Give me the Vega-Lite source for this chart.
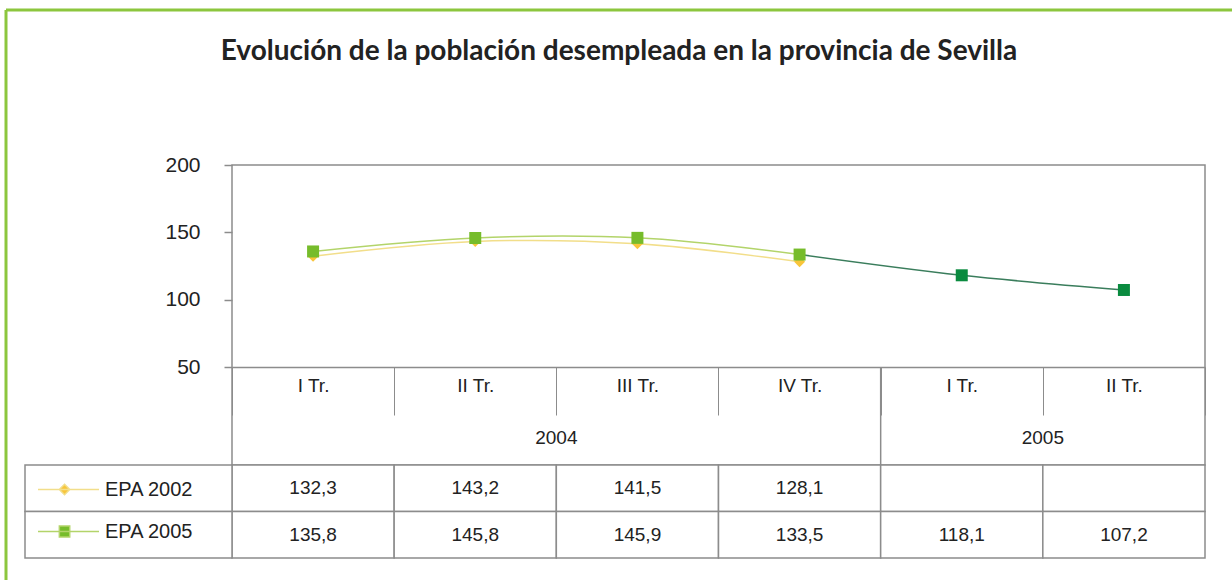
{
  "$schema": "https://vega.github.io/schema/vega-lite/v6.json",
  "autosize": {"type": "none"},
  "padding": {"left": 6, "top": 10, "right": 0, "bottom": 0},
  "width": 1226,
  "height": 570,
  "background": "white",
  "config": {
    "view": {"stroke": "#8cc63e", "strokeWidth": 3, "strokeDash": [1226, 1796, 570, 0]},
    "font": "Liberation Sans",
    "locale": {"number": {"decimal": ",", "thousands": ".", "grouping": [3], "currency": ["", " €"]}}
  },
  "title": {
    "text": "Evolución de la población desempleada en la provincia de Sevilla",
    "font": "Lato", "fontSize": 28, "fontWeight": "bold", "color": "#222222",
    "anchor": "middle", "baseline": "alphabetic", "offset": -78
  },
  "datasets": {
    "epa": [
      {"q": "2004|I Tr.", "n": 1, "year": "2004", "series": "EPA 2002", "value": 132.3},
      {"q": "2004|II Tr.", "n": 2, "year": "2004", "series": "EPA 2002", "value": 143.2},
      {"q": "2004|III Tr.", "n": 3, "year": "2004", "series": "EPA 2002", "value": 141.5},
      {"q": "2004|IV Tr.", "n": 4, "year": "2004", "series": "EPA 2002", "value": 128.1},
      {"q": "2005|I Tr.", "n": 5, "year": "2005", "series": "EPA 2002", "value": null},
      {"q": "2005|II Tr.", "n": 6, "year": "2005", "series": "EPA 2002", "value": null},
      {"q": "2004|I Tr.", "n": 1, "year": "2004", "series": "EPA 2005", "value": 135.8},
      {"q": "2004|II Tr.", "n": 2, "year": "2004", "series": "EPA 2005", "value": 145.8},
      {"q": "2004|III Tr.", "n": 3, "year": "2004", "series": "EPA 2005", "value": 145.9},
      {"q": "2004|IV Tr.", "n": 4, "year": "2004", "series": "EPA 2005", "value": 133.5},
      {"q": "2005|I Tr.", "n": 5, "year": "2005", "series": "EPA 2005", "value": 118.1},
      {"q": "2005|II Tr.", "n": 6, "year": "2005", "series": "EPA 2005", "value": 107.2}
    ]
  },
  "resolve": {
    "scale": {"x": "independent", "y": "independent", "fill": "independent", "stroke": "independent", "shape": "independent"},
    "axis": {"x": "independent", "y": "independent"},
    "legend": {"stroke": "independent", "fill": "independent", "shape": "independent"}
  },
  "layer": [
    {
      "data": {"name": "epa"},
      "transform": [{"filter": "datum.n == 1 && datum.series == 'EPA 2002'"}],
      "mark": {"type": "rect", "fill": null, "stroke": "#8c8c8c", "strokeWidth": 1.5},
      "encoding": {
        "x": {"datum": 0, "type": "quantitative", "scale": {"domain": [0, 1], "range": [226, 1199]}, "axis": null},
        "x2": {"datum": 1},
        "y": {"datum": 0, "type": "quantitative", "scale": {"domain": [0, 1], "range": [155, 455]}, "axis": null},
        "y2": {"datum": 1}
      }
    },
    {
      "data": {"name": "epa"},
      "transform": [{"filter": "datum.n == 5 && datum.series == 'EPA 2005'"}],
      "mark": {"type": "rule", "stroke": "#8c8c8c", "strokeWidth": 1.5},
      "encoding": {
        "x": {"field": "q", "type": "nominal", "bandPosition": 0,
              "scale": {"type": "band", "domain": ["2004|I Tr.", "2004|II Tr.", "2004|III Tr.", "2004|IV Tr.", "2005|I Tr.", "2005|II Tr."], "range": [226, 1199], "paddingInner": 0, "paddingOuter": 0}, "axis": null},
        "y": {"datum": 0, "type": "quantitative", "scale": {"domain": [0, 1], "range": [357, 455]}, "axis": null},
        "y2": {"datum": 1}
      }
    },
    {
      "data": {"name": "epa"},
      "mark": {"type": "rect", "fill": "white", "stroke": "#8c8c8c", "strokeWidth": 1.5},
      "encoding": {
        "x": {"field": "q", "type": "nominal",
              "scale": {"type": "band", "domain": ["2004|I Tr.", "2004|II Tr.", "2004|III Tr.", "2004|IV Tr.", "2005|I Tr.", "2005|II Tr."], "range": [226, 1199], "paddingInner": 0, "paddingOuter": 0}, "axis": null},
        "y": {"field": "series", "type": "nominal",
              "scale": {"type": "band", "domain": ["EPA 2002", "EPA 2005"], "range": [455, 548], "paddingInner": 0, "paddingOuter": 0}, "axis": null}
      }
    },
    {
      "data": {"name": "epa"},
      "transform": [{"filter": "datum.n == 1"}],
      "mark": {"type": "rect", "fill": "white", "stroke": "#8c8c8c", "strokeWidth": 1.5},
      "encoding": {
        "x": {"datum": 0, "type": "quantitative", "scale": {"domain": [0, 1], "range": [19, 226]}, "axis": null},
        "x2": {"datum": 1},
        "y": {"field": "series", "type": "nominal",
              "scale": {"type": "band", "domain": ["EPA 2002", "EPA 2005"], "range": [455, 548], "paddingInner": 0, "paddingOuter": 0}, "axis": null}
      }
    },
    {
      "data": {"name": "epa"},
      "transform": [{"filter": "datum.value != null"}],
      "mark": {"type": "text", "fontSize": 19, "color": "#222222", "align": "center", "baseline": "middle"},
      "encoding": {
        "x": {"field": "q", "type": "nominal",
              "scale": {"type": "band", "domain": ["2004|I Tr.", "2004|II Tr.", "2004|III Tr.", "2004|IV Tr.", "2005|I Tr.", "2005|II Tr."], "range": [226, 1199], "paddingInner": 0, "paddingOuter": 0}, "axis": null},
        "y": {"field": "series", "type": "nominal",
              "scale": {"type": "band", "domain": ["EPA 2002", "EPA 2005"], "range": [455, 548], "paddingInner": 0, "paddingOuter": 0}, "axis": null},
        "text": {"field": "value", "type": "quantitative", "format": ".1f"}
      }
    },
    {
      "data": {"name": "epa"},
      "mark": {"type": "text", "fontSize": 19, "color": "#222222", "align": "center", "baseline": "middle"},
      "encoding": {
        "x": {"aggregate": "mean", "field": "n", "type": "quantitative", "scale": {"domain": [0.5, 6.5], "range": [226, 1199]}, "axis": null},
        "y": {"datum": 1.45, "type": "quantitative", "scale": {"domain": [0, 2], "range": [357, 455]}, "axis": null},
        "text": {"field": "year", "type": "nominal"}
      }
    },
    {
      "data": {"name": "epa"},
      "transform": [{"filter": "datum.year == '2004'"}],
      "mark": {"type": "line", "interpolate": "catmull-rom", "strokeWidth": 1.5},
      "encoding": {
        "x": {"field": "q", "type": "nominal",
              "scale": {"type": "band", "domain": ["2004|I Tr.", "2004|II Tr.", "2004|III Tr.", "2004|IV Tr.", "2005|I Tr.", "2005|II Tr."], "range": [226, 1199], "paddingInner": 0, "paddingOuter": 0},
              "axis": {"orient": "bottom", "offset": -213, "title": null, "domain": true, "domainColor": "#8c8c8c", "domainWidth": 1.5,
                       "tickBand": "extent", "tickSize": 48, "tickColor": "#8c8c8c", "tickWidth": 1,
                       "labelExpr": "split(datum.value, '|')[1]", "labelPadding": -39, "labelAngle": 0,
                       "labelFontSize": 19, "labelColor": "#222222", "labelFont": "Liberation Sans", "grid": false}},
        "y": {"field": "value", "type": "quantitative",
              "scale": {"domain": [50, 200], "range": [357, 155], "nice": false, "zero": false},
              "axis": {"orient": "left", "offset": -226, "values": [50, 100, 150, 200], "title": null, "domain": false, "grid": false,
                       "tickSize": 8, "tickColor": "#8c8c8c", "tickWidth": 1.5, "labelPadding": 24,
                       "labelFontSize": 21, "labelColor": "#222222", "labelFont": "Liberation Sans"}},
        "stroke": {"field": "series", "type": "nominal",
                   "scale": {"domain": ["EPA 2002", "EPA 2005"], "range": ["#f2de8a", "#b3d46a"]},
                   "legend": {"orient": "none", "legendX": 31, "legendY": 448, "title": null, "padding": 0,
                              "symbolSize": 3721, "labelOffset": 5, "rowPadding": -13, "symbolStrokeWidth": 1.5,
                              "labelFontSize": 20, "labelFont": "Liberation Sans", "labelColor": "#222222",
                              "encode": {"symbols": {"update": {
                                "shape": {"signal": "datum.value === 'EPA 2002' ? 'M-1,0H1M-0.13,-0.17L0.04,0L-0.13,0.17L-0.3,0Z' : 'M-1,0H1M-0.3,-0.18H0.04V0.18H-0.3Z'"},
                                "fill": {"signal": "datum.value === 'EPA 2002' ? '#f8c53a' : '#76bc2b'"},
                                "stroke": {"signal": "datum.value === 'EPA 2002' ? '#f2de8a' : '#b3d46a'"}}}}}},
        "detail": {"field": "series"}
      }
    },
    {
      "data": {"name": "epa"},
      "transform": [{"filter": "datum.series == 'EPA 2005' && datum.n >= 4"}],
      "mark": {"type": "line", "interpolate": "catmull-rom", "strokeWidth": 1.5, "stroke": "#3a7d5c"},
      "encoding": {
        "x": {"field": "q", "type": "nominal",
              "scale": {"type": "band", "domain": ["2004|I Tr.", "2004|II Tr.", "2004|III Tr.", "2004|IV Tr.", "2005|I Tr.", "2005|II Tr."], "range": [226, 1199], "paddingInner": 0, "paddingOuter": 0}, "axis": null},
        "y": {"field": "value", "type": "quantitative", "scale": {"domain": [50, 200], "range": [357, 155], "nice": false, "zero": false}, "axis": null}
      }
    },
    {
      "data": {"name": "epa"},
      "transform": [{"filter": "datum.year == '2004'"}],
      "mark": {"type": "point", "filled": true, "opacity": 1},
      "encoding": {
        "x": {"field": "q", "type": "nominal",
              "scale": {"type": "band", "domain": ["2004|I Tr.", "2004|II Tr.", "2004|III Tr.", "2004|IV Tr.", "2005|I Tr.", "2005|II Tr."], "range": [226, 1199], "paddingInner": 0, "paddingOuter": 0}, "axis": null},
        "y": {"field": "value", "type": "quantitative", "scale": {"domain": [50, 200], "range": [357, 155], "nice": false, "zero": false}, "axis": null},
        "fill": {"field": "series", "type": "nominal", "scale": {"domain": ["EPA 2002", "EPA 2005"], "range": ["#f8c53a", "#76bc2b"]}, "legend": null},
        "shape": {"field": "series", "type": "nominal", "scale": {"domain": ["EPA 2002", "EPA 2005"], "range": ["diamond", "square"]}, "legend": null},
        "size": {"field": "series", "type": "nominal", "scale": {"domain": ["EPA 2002", "EPA 2005"], "range": [120, 144]}, "legend": null}
      }
    },
    {
      "data": {"name": "epa"},
      "transform": [{"filter": "datum.series == 'EPA 2005' && datum.year == '2005'"}],
      "mark": {"type": "point", "filled": true, "opacity": 1, "size": 144, "shape": "square", "fill": "#0a8b3f"},
      "encoding": {
        "x": {"field": "q", "type": "nominal",
              "scale": {"type": "band", "domain": ["2004|I Tr.", "2004|II Tr.", "2004|III Tr.", "2004|IV Tr.", "2005|I Tr.", "2005|II Tr."], "range": [226, 1199], "paddingInner": 0, "paddingOuter": 0}, "axis": null},
        "y": {"field": "value", "type": "quantitative", "scale": {"domain": [50, 200], "range": [357, 155], "nice": false, "zero": false}, "axis": null}
      }
    }
  ]
}
